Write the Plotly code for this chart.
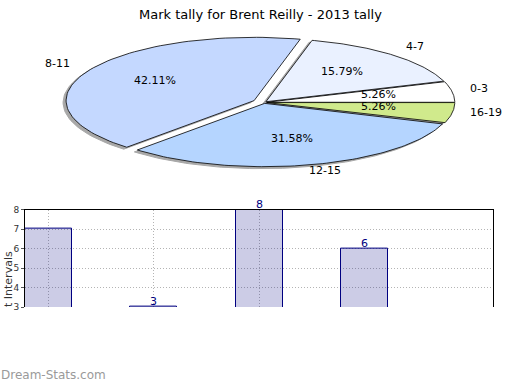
import numpy as np
import plotly.graph_objects as go

# ---------------- data ----------------
pie_labels = ["0-3", "4-7", "8-11", "12-15", "16-19"]
pie_values = [1, 3, 8, 6, 1]
pie_colors = ["#ffffff", "#eaf1ff", "#c4d8ff", "#b5d5ff", "#d0ea8c"]
pie_explode = [0.015, 0.015, 0.06, 0.015, 0.015]

bar_categories = ["0-3", "4-7", "8-11", "12-15", "16-19"]
bar_values = [7, 3, 8, 6, 1]
bar_text = ["", "3", "8", "6", ""]
y_ticks = [3, 4, 5, 6, 7, 8]

title_text = "Mark tally for Brent Reilly - 2013 tally"
y_title_text = "t Intervals"
watermark = "Dream-Stats.com"

# ---------------- geometry / style ----------------
W, H = 520, 390
CX, CY, A, B = 264, 100, 188, 65     # ellipse centre and radii (pixels)
SHADOW_DX, SHADOW_DY = -3, 2
FONT = "DejaVu Sans"
GRID = "#b4b4b4"


def pxx(p):
    return p / W


def pxy(p):
    return 1 - p / H


fig = go.Figure()

total = float(sum(pie_values))
start = 0.0
shadow_traces, slice_traces, annotations = [], [], []
for lab, val, col, ex in zip(pie_labels, pie_values, pie_colors, pie_explode):
    sweep = val / total * 2 * np.pi
    t = np.linspace(start, start + sweep, 80)
    mid = start + sweep / 2
    ox = CX + ex * A * np.cos(mid)
    oy = CY - ex * B * np.sin(mid)
    xs = np.concatenate([[ox], ox + A * np.cos(t), [ox]])
    ys = np.concatenate([[oy], oy - B * np.sin(t), [oy]])
    shadow_traces.append(go.Scatter(x=xs + SHADOW_DX, y=ys + SHADOW_DY, mode="lines",
                                    fill="toself", fillcolor="#a8a8a8",
                                    line=dict(color="#a8a8a8", width=1),
                                    xaxis="x2", yaxis="y2", hoverinfo="skip", showlegend=False))
    slice_traces.append(go.Scatter(x=xs, y=ys, mode="lines", fill="toself", fillcolor=col,
                                   line=dict(color="#000000", width=0.8),
                                   xaxis="x2", yaxis="y2", name=lab, showlegend=False))
    # percentage label
    px = ox + 0.6 * A * np.cos(mid)
    py = oy - 0.6 * B * np.sin(mid)
    annotations.append(dict(x=px, y=py, xref="x2", yref="y2", text=f"{val / total * 100:.2f}%",
                            showarrow=False, yshift=2,
                            font=dict(family=FONT, size=11, color="#000")))
    # outer label
    c, s = np.cos(mid), np.sin(mid)
    anchor = "left" if c > 0.3 else ("right" if c < -0.3 else "center")
    if anchor == "left":
        lx = ox + 1.08 * A * c + 1
        ly = oy - 1.15 * B * s
    elif anchor == "right":
        lx = ox + 1.1 * A * c
        ly = oy - 1.15 * B * s
    else:
        lx = ox + 1.3 * A * c
        ly = oy - 1.12 * B * s
    annotations.append(dict(x=lx, y=ly, xref="x2", yref="y2", text=lab, xanchor=anchor,
                            showarrow=False, yshift=2,
                            font=dict(family=FONT, size=11, color="#000")))
    start += sweep

for tr in shadow_traces:
    fig.add_trace(tr)
for tr in slice_traces:
    fig.add_trace(tr)

# ---------------- bar chart ----------------
fig.add_trace(go.Bar(x=bar_categories, y=bar_values, width=0.447,
                     marker=dict(color="rgba(0,0,128,0.2)", line=dict(color="#000080", width=1)),
                     xaxis="x", yaxis="y", showlegend=False, hoverinfo="x+y"))
for cat, val, txt in zip(bar_categories, bar_values, bar_text):
    if txt:
        annotations.append(dict(x=cat, y=val, xref="x", yref="y", text=txt, showarrow=False,
                                yanchor="bottom", yshift=-3,
                                font=dict(family=FONT, size=11, color="#000080")))

annotations.append(dict(x=pxx(260), y=pxy(10), xref="paper", yref="paper", text=title_text,
                        showarrow=False, yanchor="middle",
                        font=dict(family=FONT, size=13, color="#000")))
annotations.append(dict(x=pxx(8), y=pxy(312), xref="paper", yref="paper", text=y_title_text,
                        textangle=-90, showarrow=False, xanchor="center", yanchor="bottom",
                        font=dict(family=FONT, size=11, color="#333")))
annotations.append(dict(x=pxx(-1), y=pxy(380), xref="paper", yref="paper", text=watermark,
                        showarrow=False, xanchor="left", yanchor="middle",
                        font=dict(family=FONT, size=12, color="#9a9a9a")))

fig.update_layout(
    width=W, height=H,
    margin=dict(l=0, r=0, t=0, b=0),
    paper_bgcolor="white", plot_bgcolor="rgba(0,0,0,0)",
    showlegend=False,
    bargap=0,
    annotations=annotations,
    xaxis=dict(domain=[pxx(25), pxx(493)], range=[-0.223, 4.22], type="category",
               side="top", showline=True, linecolor="#000", linewidth=1,
               showticklabels=False, tickvals=bar_categories[:3], ticks="",
               showgrid=True, gridcolor=GRID, griddash="1px,2px", gridwidth=1,
               zeroline=False, anchor="y"),
    yaxis=dict(domain=[pxy(310), pxy(210)], range=[3, 8], tickvals=y_ticks,
               showline=True, mirror=True, linecolor="#000", linewidth=1,
               ticks="outside", ticklen=3, tickcolor="#555",
               tickfont=dict(family=FONT, size=9, color="#333"),
               showgrid=True, gridcolor=GRID, griddash="1px,2px", gridwidth=1,
               zeroline=False, anchor="x"),
    xaxis2=dict(domain=[0, 1], range=[0, W], visible=False, anchor="y2"),
    yaxis2=dict(domain=[0, 1], range=[H, 0], visible=False, anchor="x2"),
)

fig.write_html("out.html", config={"displayModeBar": False},
               post_script="document.body.style.margin='0px';document.body.style.overflow='hidden';")
